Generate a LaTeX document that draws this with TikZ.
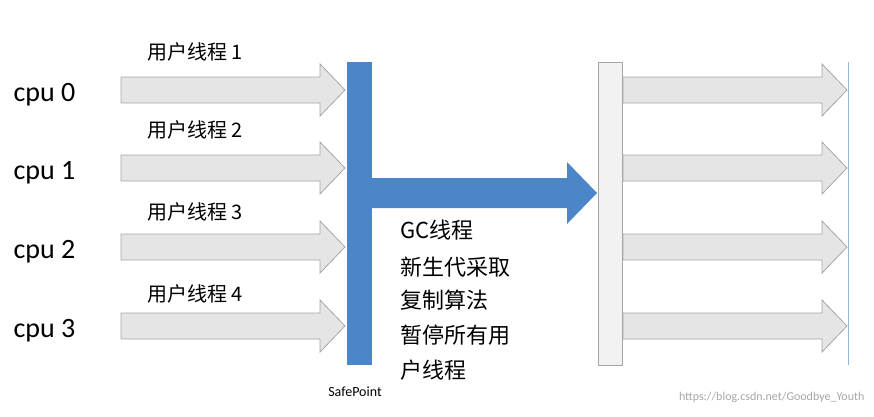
\documentclass[tikz,border=0pt]{standalone}
\usepackage{fontspec}
\setmainfont{Carlito}
\newfontfamily\cjk{Noto Sans CJK SC}
\begin{document}
\begin{tikzpicture}[x=1pt,y=-1pt,
  garrow/.style={fill=gray!20,draw=gray!70,line width=0.8pt},
  cpu/.style={anchor=west,font=\fontsize{28}{28}\selectfont},
  ulab/.style={anchor=west,font=\cjk\fontsize{20}{20}\selectfont},
  gc/.style={anchor=west,font=\cjk\fontsize{22}{22}\selectfont}]
\useasboundingbox (0,0) rectangle (874,416);
\definecolor{gcblue}{HTML}{4A86C8}
\foreach \i/\y in {0/90,1/168,2/247,3/326}{
  \node[cpu] (cpu\i) at (10,\y+5) {cpu \i};
  \draw[garrow] (121,\y-13) -- (320,\y-13) -- (320,\y-26) -- (345,\y) -- (320,\y+26) -- (320,\y+13) -- (121,\y+13) -- cycle;
  \draw[garrow] (623,\y-13) -- (822,\y-13) -- (822,\y-26) -- (847,\y) -- (822,\y+26) -- (822,\y+13) -- (623,\y+13) -- cycle;
}
\node[ulab] (u1) at (144,52) {用户线程 1};
\node[ulab] (u2) at (144,130) {用户线程 2};
\node[ulab] (u3) at (144,212) {用户线程 3};
\node[ulab] (u4) at (144,294) {用户线程 4};
\fill[gcblue] (347,62) rectangle (372,365);
\node (sp) at (355,392) [font=\fontsize{14}{14}\selectfont] {SafePoint};
\fill[gcblue] (372,178) -- (567,178) -- (567,162) -- (597,193) -- (567,224) -- (567,208) -- (372,208) -- cycle;
\draw[fill=blue!5!gray!10,draw=gray!70,line width=0.8pt] (598,62) rectangle (622,365);
\draw[gcblue!60,line width=0.8pt] (848,62) -- (848,365);
\node[gc] (g1) at (397,230) {GC线程};
\node[gc] (g2) at (397,267) {新生代采取};
\node[gc] (g3) at (397,300) {复制算法};
\node[gc] (g4) at (397,335) {暂停所有用};
\node[gc] (g5) at (397,370) {户线程};
\node[anchor=east,text=gray!70,font=\fontsize{12}{12}\selectfont] (wm) at (868,397) {https://blog.csdn.net/Goodbye\_Youth};
\end{tikzpicture}
\end{document}
